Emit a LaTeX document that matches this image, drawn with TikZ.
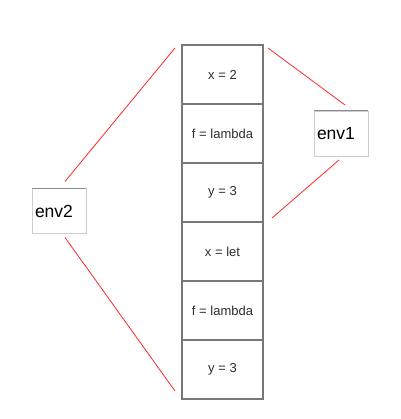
\documentclass[tikz,border=0pt]{standalone}
\usepackage{fontspec}
\setmainfont{Liberation Sans}
\usetikzlibrary{calc, positioning}
\definecolor{Cellcol}{RGB}{120, 120, 120}
\definecolor{Celltext}{RGB}{45, 45, 45}
\definecolor{Envtop}{RGB}{140, 140, 140}
\definecolor{Envcol}{RGB}{205, 205, 205}
\definecolor{Linkcol}{RGB}{255, 40, 40}

\begin{document}
\begin{tikzpicture}[
    x=1pt, y=-1pt,
    cellbox/.style={
        rectangle, draw=Cellcol, line width=1.3pt,
        minimum width=81pt, minimum height=59pt,
        inner sep=0pt, outer sep=0pt,
        font=\fontsize{13}{15}\selectfont, text=Celltext
    },
    envbox/.style={
        rectangle, draw=Envcol, line width=0.8pt,
        minimum width=54pt, minimum height=45pt,
        inner ysep=0pt, inner xsep=3pt, outer sep=0pt,
        text width=48pt, align=left,
        font=\fontsize{17.5}{20}\selectfont, text=black
    },
    linkstyle/.style={
        line width=0.8pt, color=Linkcol
    }
]

    % Bordi della figura
    \useasboundingbox (0,0) rectangle (400,419);

    % ------------------- PILA DEI FRAME -------------------
    \node[cellbox] (x1) at (222.5, 74.5) {x = 2};
    \node[cellbox, below=0pt of x1] (f1) {f = lambda};
    \node[cellbox, below=0pt of f1] (y1) {y = 3};
    \node[cellbox, below=0pt of y1] (x2) {x = let};
    \node[cellbox, below=0pt of x2] (f2) {f = lambda};
    \node[cellbox, below=0pt of f2] (y2) {y = 3};

    % ------------------- AMBIENTI -------------------
    \node[envbox] (env1) at (341, 133.5) {env1};
    \draw[Envtop, line width=1pt] (env1.north west) -- (env1.north east);

    \node[envbox] (env2) at (59, 211) {env2};
    \draw[Envtop, line width=1pt] (env2.north west) -- (env2.north east);

    % ------------------- COLLEGAMENTI -------------------
    % env1 -> frame alto
    \draw[linkstyle] ([shift={(4pt,6pt)}]env1.north) -- ([shift={(5pt,-3pt)}]x1.north east);
    \draw[linkstyle] ([shift={(-2pt,-4pt)}]env1.south) -- ([shift={(9pt,4pt)}]y1.south east);

    % env2 -> tutta la pila
    \draw[linkstyle] ([shift={(6pt,7pt)}]env2.north) -- ([shift={(-7pt,-3pt)}]x1.north west);
    \draw[linkstyle] ([shift={(6pt,-4pt)}]env2.south) -- ([shift={(-7pt,8pt)}]y2.south west);
\end{tikzpicture}
\end{document}
